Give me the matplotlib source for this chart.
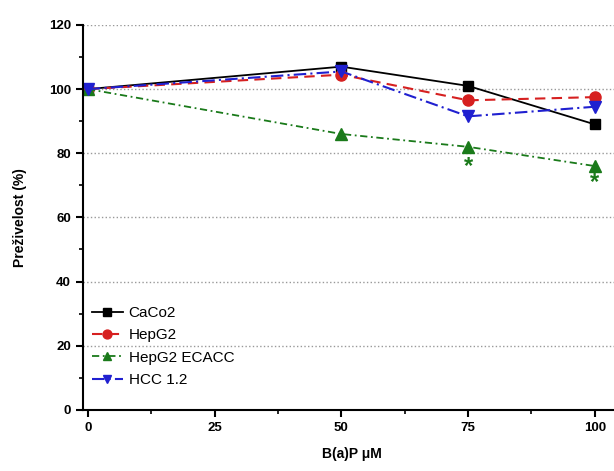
import matplotlib
matplotlib.use('Agg')
import matplotlib.pyplot as plt
from matplotlib.ticker import MultipleLocator

plt.rcParams['font.family'] = ['Liberation Sans', 'DejaVu Sans']

# koncentracije B(a)P
conc = [0, 50, 75, 100]
caco2 = [100, 107, 101, 89]
hepg2 = [100, 104.5, 96.5, 97.5]
hepg2_ecacc = [100, 86, 82, 76]
hcc12 = [100, 105.5, 91.5, 94.5]

# zvezdice (statisticna znacilnost)
star_x = [75, 100]
star_y = [76, 71]

fig = plt.figure(figsize=(6.14, 4.71), dpi=100)
ax = fig.add_axes([0.135, 0.13, 0.875, 0.817])

ax.plot(conc, caco2, color='black', linestyle='-', marker='s', markersize=7,
        linewidth=1.3, label='CaCo2')
ax.plot(conc, hepg2, color='#d62020', linestyle=(0, (5, 3)), marker='o', markersize=8,
        linewidth=1.5, label='HepG2')
ax.plot(conc, hepg2_ecacc, color='#1a7a1a', linestyle=(0, (4, 2, 1, 2)), marker='^',
        markersize=8, linewidth=1.3, label='HepG2 ECACC')
ax.plot(conc, hcc12, color='#2020d0', linestyle=(0, (6, 2, 1, 2)), marker='v', markersize=8,
        linewidth=1.5, label='HCC 1.2')

for sx, sy in zip(star_x, star_y):
    ax.text(sx, sy, '*', color='#1a7a1a', fontsize=17, fontweight='bold',
            ha='center', va='center')

ax.set_xlim(-1, 105)
ax.set_ylim(0, 120)
ax.xaxis.set_major_locator(MultipleLocator(25))
ax.xaxis.set_minor_locator(MultipleLocator(12.5))
ax.yaxis.set_major_locator(MultipleLocator(20))
ax.yaxis.set_minor_locator(MultipleLocator(10))

ax.yaxis.grid(True, which='major', linestyle=':', color='#999999', linewidth=1)
ax.set_axisbelow(True)

for side in ['top', 'right']:
    ax.spines[side].set_visible(False)
for side in ['left', 'bottom']:
    ax.spines[side].set_linewidth(1.5)

ax.tick_params(which='major', length=5, width=1.5, labelsize=9.5)
ax.tick_params(which='minor', length=3, width=1.2)
for lbl in ax.get_xticklabels() + ax.get_yticklabels():
    lbl.set_fontweight('bold')

ax.set_xlabel('B(a)P μM', fontsize=10, fontweight='bold', labelpad=10)
ax.set_ylabel('Preživelost (%)', fontsize=10, fontweight='bold', labelpad=16)

ax.legend(loc='lower left', frameon=False, fontsize=11, handlelength=2.0,
          labelspacing=0.55, borderaxespad=0.2, handletextpad=0.4,
          markerscale=0.8, bbox_to_anchor=(0.0, 0.035))

plt.savefig('out.png', dpi=100)
